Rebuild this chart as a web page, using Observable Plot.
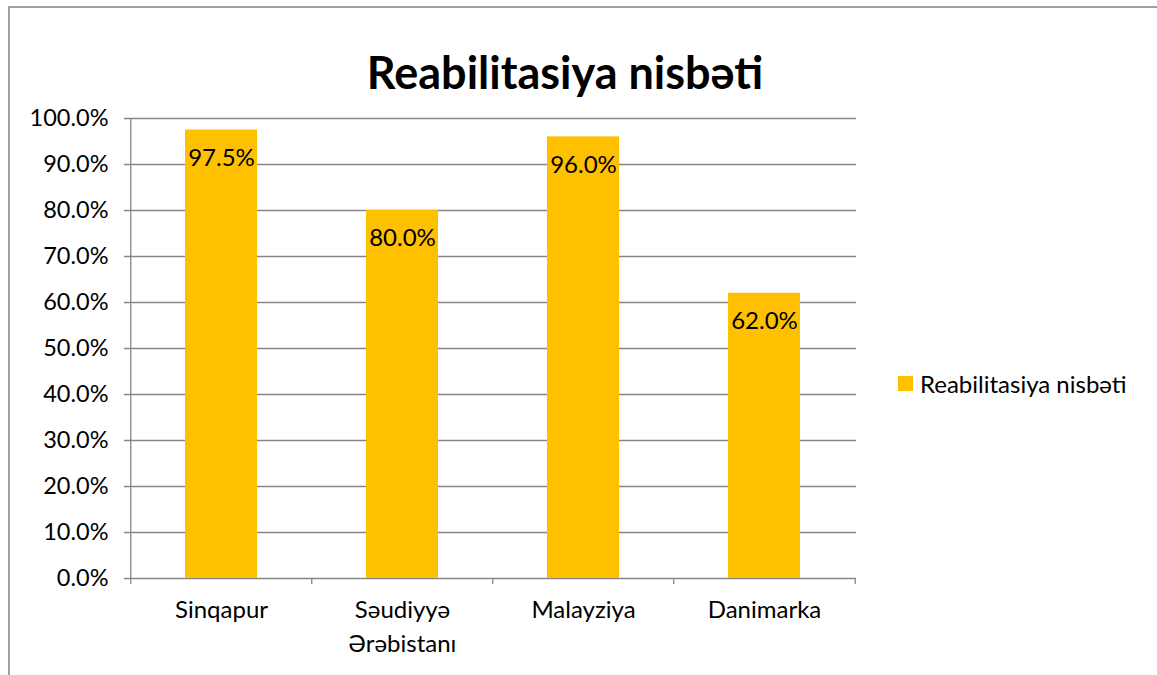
<!DOCTYPE html>
<html><head><meta charset="utf-8">
<script src="https://cdn.jsdelivr.net/npm/d3@7"></script>
<script src="https://cdn.jsdelivr.net/npm/@observablehq/plot@0.6"></script>
<style>
body{margin:0;background:#fff;font-family:Lato,"Open Sans",sans-serif;}
#wrap{position:relative;width:1157px;height:675px;overflow:hidden;}
#border{position:absolute;left:8px;top:6px;width:1160px;height:680px;border-left:2px solid #a0a0a0;border-top:2px solid #a0a0a0;box-sizing:border-box;}
#title{position:absolute;left:0;width:1130px;top:45px;line-height:54px;text-align:center;font-weight:bold;font-size:45px;color:#000;}
#legend{position:absolute;left:898px;top:368px;height:30px;font-size:24px;color:#000;display:flex;align-items:center;}
#legend span.sw{display:inline-block;width:15px;height:15px;background:#FFC000;margin-right:7px;}
#chart{position:absolute;left:0;top:0;}
</style></head>
<body><div id="wrap"><div id="border"></div><div id="chart"></div>
<div id="title">Reabilitasiya nisbəti</div>
<div id="legend"><span class="sw"></span><span>Reabilitasiya nisbəti</span></div></div>
<script>
const categories = ["Sinqapur", "Səudiyyə\nƏrəbistanı", "Malayziya", "Danimarka"];
const values = [0.975, 0.80, 0.96, 0.62];
const yTicks = [0,0.1,0.2,0.3,0.4,0.5,0.6,0.7,0.8,0.9,1.0];
const data = categories.map((c,i)=>({cat:c, v:values[i]}));

const W=1157,H=675,mL=130,mR=301,mT=118,mB=97;
const step=(W-mL-mR)/4;
const grid="#868686";
const plot = Plot.plot({
  width:W, height:H, marginLeft:mL, marginRight:mR, marginTop:mT, marginBottom:mB,
  style:{fontFamily:"Lato, 'Open Sans', sans-serif", fontSize:"24px", color:"#000", background:"transparent"},
  x:{domain:categories, paddingInner:0.6, paddingOuter:0.3, label:null},
  y:{domain:[0,1], label:null},
  marks:[
    Plot.ruleY(yTicks, {y:d=>d, stroke:grid, strokeWidth:1.3, insetLeft:-6}),
    Plot.barY(data, {x:"cat", y:"v", fill:"#FFC000"}),
    Plot.ruleX(categories, {x:d=>d, y1:(d,i)=> -0.013, y2:(d,i)=> i===0?1:0, dx:-step/2, stroke:grid, strokeWidth:1.3}),
    Plot.ruleX([categories[3]], {x:d=>d, y1:-0.013, y2:0, dx:step/2, stroke:grid, strokeWidth:1.3}),
    Plot.text(data, {x:"cat", y:"v", text:d=>d3.format(".1%")(d.v), dy:28, fontSize:24, fill:"#000"}),
    Plot.axisY({ticks:yTicks, tickSize:0, tickPadding:22, tickFormat:".1%", fontSize:23.5, label:null}),
    Plot.axisX({tickSize:0, tickPadding:15, fontSize:24, label:null, lineHeight:1.42})
  ]
});
document.getElementById("chart").appendChild(plot);
</script></body></html>
